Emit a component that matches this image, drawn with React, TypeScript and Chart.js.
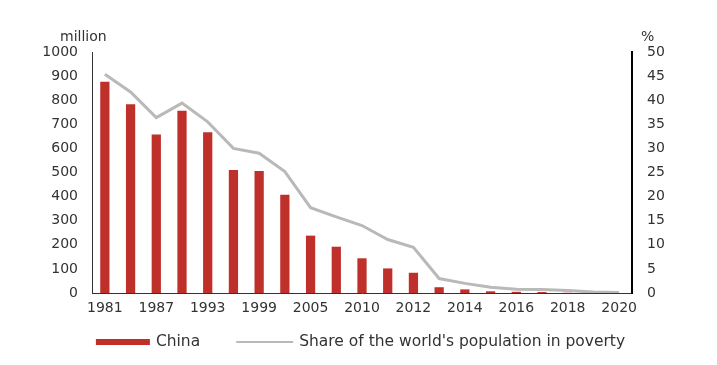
import React, { useEffect, useRef } from 'react';
import { Chart, registerables } from 'chart.js';

Chart.register(...registerables);

const categories = ['1981', '1984', '1987', '1990', '1993', '1996', '1999', '2002', '2005', '2008', '2010', '2011', '2012', '2013', '2014', '2015', '2016', '2017', '2018', '2019', '2020'];
const chinaPoorMillions = [877, 783, 658, 756, 667, 510, 506, 408, 238, 192, 144, 102, 84, 24, 15, 7, 5, 4, 1, 0, 0];
const worldSharePct = [45.4, 41.7, 36.4, 39.4, 35.5, 30.0, 29.0, 25.2, 17.7, 15.8, 14.0, 11.1, 9.5, 3.0, 2.0, 1.2, 0.8, 0.75, 0.5, 0.2, 0.1];
const seriesLabels = ['China', "Share of the world's population in poverty"];
const leftUnit = 'million';
const rightUnit = '%';

const FONT = 'DejaVu Sans';
const TEXT = '#333333';
const BAR = '#c0302a';
const LINE = '#b9b9b9';

const unitsAndLegend = {
  id: 'unitsAndLegend',
  afterDraw(chart: any) {
    const { ctx, chartArea, width } = chart;
    ctx.save();
    ctx.fillStyle = TEXT;
    ctx.textBaseline = 'middle';
    ctx.font = `14px "${FONT}"`;
    ctx.textAlign = 'left';
    ctx.fillText(leftUnit, chartArea.left - 32, chartArea.top - 15);
    ctx.fillText(rightUnit, chartArea.right + 9, chartArea.top - 15);

    // legend
    ctx.font = `15.5px "${FONT}"`;
    const ds = chart.data.datasets;
    const boxW = 54;
    const lineW = 57;
    const gapText = 6;
    const itemGap = 36;
    const w1 = ctx.measureText(ds[0].label).width;
    const w2 = ctx.measureText(ds[1].label).width;
    const total = boxW + gapText + w1 + itemGap + lineW + gapText + w2;
    let x = (width - total) / 2 + 2;
    const y = 342;
    ctx.fillStyle = ds[0].backgroundColor;
    ctx.fillRect(x, y - 3, boxW, 6);
    x += boxW + gapText;
    ctx.fillStyle = TEXT;
    ctx.fillText(ds[0].label, x, y);
    x += w1 + itemGap;
    ctx.strokeStyle = ds[1].borderColor;
    ctx.lineWidth = 2;
    ctx.beginPath();
    ctx.moveTo(x, y);
    ctx.lineTo(x + lineW, y);
    ctx.stroke();
    x += lineW + gapText;
    ctx.fillText(ds[1].label, x, y);
    ctx.restore();
  },
};

export default function App() {
  const canvasRef = useRef<HTMLCanvasElement | null>(null);

  useEffect(() => {
    document.body.style.margin = '0';
    const canvas = canvasRef.current;
    if (!canvas) return;
    const chart = new Chart(canvas, {
      type: 'bar',
      data: {
        labels: categories,
        datasets: [
          {
            type: 'bar',
            label: seriesLabels[0],
            data: chinaPoorMillions,
            backgroundColor: BAR,
            borderWidth: 0,
            barPercentage: 0.36,
            categoryPercentage: 1,
            yAxisID: 'y',
            order: 2,
          },
          {
            type: 'line',
            label: seriesLabels[1],
            data: worldSharePct,
            borderColor: LINE,
            backgroundColor: LINE,
            borderWidth: 3,
            pointRadius: 0,
            tension: 0,
            fill: false,
            yAxisID: 'y1',
            order: 1,
          },
        ],
      },
      options: {
        animation: false,
        responsive: true,
        maintainAspectRatio: false,
        layout: { padding: { top: 52, bottom: 40, left: 0, right: 0 } },
        plugins: {
          legend: { display: false },
          tooltip: { enabled: false },
          title: { display: false },
        },
        scales: {
          x: {
            grid: { display: false, drawTicks: false },
            border: { display: true, color: '#333333', width: 1 },
            ticks: {
              autoSkip: false,
              maxRotation: 0,
              padding: 7,
              color: TEXT,
              font: { family: FONT, size: 14 },
              callback: (_v: any, i: number) => (i % 2 === 0 ? categories[i] : ''),
            },
            afterFit: (s: any) => {
              s.height = 32;
            },
          },
          y: {
            position: 'left',
            min: 0,
            max: 1000,
            grid: { display: false, drawTicks: false },
            border: { display: true, color: '#333333', width: 1 },
            ticks: {
              stepSize: 100,
              padding: 14,
              color: TEXT,
              font: { family: FONT, size: 14 },
              callback: (v: any) => String(v),
            },
            afterFit: (s: any) => {
              s.width = 92;
            },
          },
          y1: {
            position: 'right',
            min: 0,
            max: 50,
            grid: { display: false, drawTicks: false },
            border: { display: true, color: '#000000', width: 2 },
            ticks: {
              stepSize: 5,
              padding: 15,
              color: TEXT,
              font: { family: FONT, size: 14 },
              callback: (v: any) => String(v),
            },
            afterFit: (s: any) => {
              s.width = 85;
            },
          },
        },
      },
      plugins: [unitsAndLegend],
    });
    return () => chart.destroy();
  }, []);

  return (
    <div style={{ position: 'relative', width: '717px', height: '365px' }}>
      <canvas ref={canvasRef} />
    </div>
  );
}
